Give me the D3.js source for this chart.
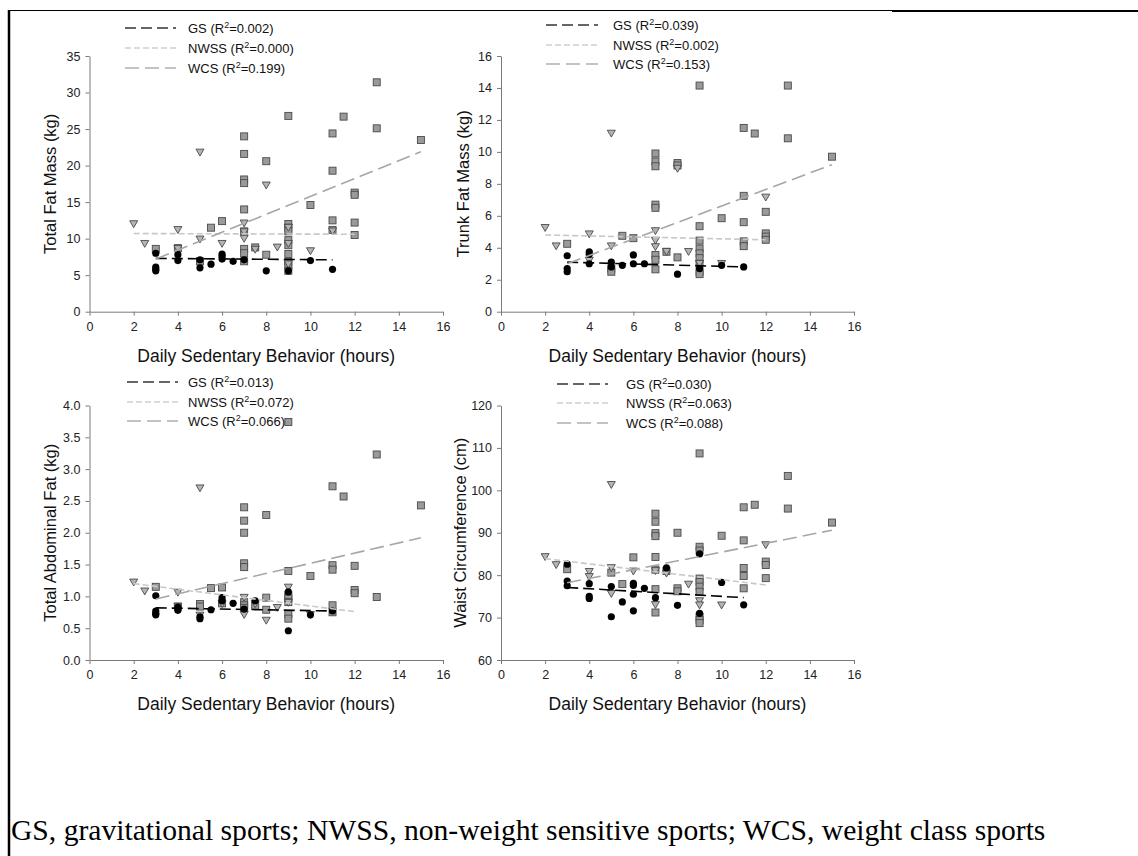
<!DOCTYPE html>
<html>
<head>
<meta charset="utf-8">
<script src="https://cdn.jsdelivr.net/npm/d3@7"></script>
<style>
  body { margin: 0; background: #fff; }
  svg text { font-family: Arial, "Liberation Sans", sans-serif; }
</style>
</head>
<body>
<svg id="chart" width="1138" height="856"></svg>
<script>
// ---- data (x = daily sedentary hours, y = measure) ----
var groups = ["GS", "NWSS", "WCS"];
var xTicks = [0, 2, 4, 6, 8, 10, 12, 14, 16];
var xTitle = "Daily Sedentary Behavior (hours)";

// Total fat mass (kg)
var tfmGS = [[3,8.0],[3,6.1],[3,5.8],[3,5.6],[4,7.8],[4,7.0],[5,7.1],[5,6.0],[5.5,6.5],[6,7.9],[6,7.6],[6,7.2],
  [6.5,6.9],[7,7.1],[8,5.6],[9,5.6],[10,7.0],[11,5.8]];
var tfmNWSS = [[2,12.0],[2.5,9.3],[4,11.2],[4,8.6],[5,21.8],[5,9.9],[6,9.3],[7,12.1],[7,10.9],[7,10.0],[7.5,8.5],
  [8,17.3],[8.5,8.8],[9,11.5],[9,9.3],[9,6.5],[10,8.3],[11,11.0]];
var tfmWCS = [[3,8.6],[4,8.7],[5,6.9],[5.5,11.5],[6,12.4],[7,24.0],[7,21.6],[7,18.1],[7,17.6],[7,14.0],[7,11.0],
  [7,8.6],[7,8.0],[7,6.9],[7.5,8.8],[8,20.6],[8,7.8],[9,26.8],[9,12.0],[9,11.5],[9,11.0],[9,9.8],[9,9.1],[9,7.9],
  [9,6.8],[9,6.3],[9,5.6],[10,14.6],[11,24.4],[11,19.3],[11,12.5],[11,11.2],[11.5,26.7],[12,16.3],[12,16.0],
  [12,12.2],[12,10.5],[13,31.4],[13,25.1],[15,23.5]];
var tfmFits = [[[3,7.3],[11,7.1]], [[2,10.7],[12,10.6]], [[3,7.2],[15,21.9]]];
var tfmR2 = ["0.002", "0.000", "0.199"];

// Trunk fat mass (kg)
var trkGS = [[3,3.5],[3,2.7],[3,2.5],[4,3.75],[4,3.6],[4,3.0],[5,3.1],[5,2.8],[5.5,2.9],[6,3.55],[6,3.0],
  [6.5,3.0],[8,2.35],[9,2.7],[10,2.9],[11,2.8]];
var trkNWSS = [[2,5.25],[2.5,4.1],[4,4.85],[4,3.2],[5,11.15],[5,4.1],[7,5.05],[7,4.45],[7,4.05],[7.5,3.75],
  [8,8.95],[8.5,3.75],[9,3.0],[10,3.0],[12,7.15]];
var trkWCS = [[3,4.25],[5,2.7],[5,2.5],[5.5,4.75],[6,4.6],[7,9.9],[7,9.4],[7,9.1],[7,6.7],[7,6.5],[7,3.55],
  [7,3.25],[7,2.65],[7.5,3.75],[8,9.3],[8,9.15],[8,3.4],[9,14.15],[9,5.35],[9,4.45],[9,3.95],[9,3.65],[9,3.35],
  [9,3.0],[9,2.5],[9,2.35],[10,5.85],[11,11.5],[11,7.25],[11,5.6],[11,4.4],[11,4.1],[11.5,11.15],[12,6.25],
  [12,4.9],[12,4.7],[12,4.5],[13,14.15],[13,10.85],[15,9.7]];
var trkFits = [[[3,3.1],[11,2.8]], [[2,4.8],[12,4.5]], [[3,3.0],[15,9.2]]];
var trkR2 = ["0.039", "0.002", "0.153"];

// Total abdominal fat (kg)
var abdGS = [[3,1.01],[3,0.77],[3,0.73],[3,0.71],[4,0.83],[4,0.78],[5,0.68],[5,0.65],[5.5,0.79],[6,0.98],
  [6,0.93],[6.5,0.89],[7,0.8],[7.5,0.93],[9,1.07],[9,0.46],[10,0.71],[11,0.77]];
var abdNWSS = [[2,1.22],[2.5,1.08],[4,1.06],[4,0.84],[5,0.7],[5,2.7],[6,0.88],[7,0.98],[7,0.71],[7.5,0.88],
  [8,0.62],[8.5,0.82],[9,1.14],[9,0.9],[10,0.71]];
var abdWCS = [[3,1.15],[4,0.84],[5,0.88],[5,0.84],[5.5,1.13],[6,1.14],[6,0.89],[7,2.4],[7,2.19],[7,2.0],
  [7,1.52],[7,1.46],[7,0.91],[7,0.86],[7,0.82],[7.5,0.85],[8,2.28],[8,0.98],[8,0.79],[9,3.74],[9,1.4],[9,1.02],
  [9,0.97],[9,0.91],[9,0.72],[9,0.65],[10,1.32],[11,2.73],[11,1.49],[11,1.42],[11,0.86],[11,0.75],[11.5,2.57],
  [12,1.48],[12,1.1],[12,1.05],[13,3.23],[13,0.99],[15,2.43]];
var abdFits = [[[3,0.82],[11,0.77]], [[2,1.2],[12,0.76]], [[3,0.96],[15,1.92]]];
var abdR2 = ["0.013", "0.072", "0.066"];

// Waist circumference (cm)
var wcGS = [[3,82.6],[3,78.6],[3,77.5],[4,78.0],[4,75.0],[4,74.5],[5,77.3],[5,70.2],[5.5,73.7],[6,78.1],
  [6,77.6],[6,75.5],[6,71.6],[6.5,76.9],[7,74.7],[7.5,81.7],[8,72.9],[9,85.0],[9,71.0],[10,78.3],[11,73.0]];
var wcNWSS = [[2,84.3],[2.5,82.4],[4,80.8],[4,79.6],[5,101.3],[5,81.7],[5,75.6],[6,80.9],[7,81.0],[7,73.0],
  [7.5,80.4],[8.5,77.8],[9,73.9],[9,72.9],[10,72.9],[12,87.1]];
var wcWCS = [[3,81.4],[5,80.6],[5.5,77.9],[6,84.2],[7,94.5],[7,92.6],[7,89.9],[7,89.2],[7,84.3],[7,81.3],
  [7,76.7],[7,71.2],[7.5,81.0],[8,90.0],[8,76.9],[8,76.2],[9,108.7],[9,86.7],[9,85.8],[9,79.2],[9,78.4],
  [9,77.3],[9,76.1],[9,70.2],[9,69.4],[9,68.7],[10,89.3],[11,96.0],[11,88.2],[11,81.7],[11,79.8],[11,76.9],
  [11.5,96.6],[12,83.2],[12,82.4],[12,79.3],[13,103.4],[13,95.7],[15,92.4]];
var wcFits = [[[3,77.1],[11,74.7]], [[2,83.9],[12,77.7]], [[3,78.2],[15,90.6]]];
var wcR2 = ["0.030", "0.063", "0.088"];

var footnote = "GS, gravitational sports; NWSS, non-weight sensitive sports; WCS, weight class sports";

// ---- layout ----
var panels = [
  { title: "Total Fat Mass (kg)", domain: [0, 35], ticks: d3.range(0, 36, 5), fmt: d3.format("d"),
    gs: tfmGS, nwss: tfmNWSS, wcs: tfmWCS, fits: tfmFits, r2: tfmR2,
    left: 89.5, right: 443, top: 56, bottom: 311.7, ytx: 50, xty: 362,
    leg: { x0: 125, x1: 176, tx: 188, rows: [28, 48, 68] } },
  { title: "Trunk Fat Mass (kg)", domain: [0, 16], ticks: d3.range(0, 17, 2), fmt: d3.format("d"),
    gs: trkGS, nwss: trkNWSS, wcs: trkWCS, fits: trkFits, r2: trkR2,
    left: 501, right: 854, top: 56, bottom: 311.7, ytx: 463, xty: 362,
    leg: { x0: 546, x1: 598, tx: 613, rows: [25, 45, 64] } },
  { title: "Total Abdominal Fat (kg)", domain: [0, 4], ticks: d3.range(0, 4.01, 0.5), fmt: d3.format(".1f"),
    gs: abdGS, nwss: abdNWSS, wcs: abdWCS, fits: abdFits, r2: abdR2,
    left: 89.5, right: 443, top: 405.5, bottom: 660, ytx: 50, xty: 710,
    leg: { x0: 127, x1: 178, tx: 188, rows: [382, 402, 421] } },
  { title: "Waist Circumference (cm)", domain: [60, 120], ticks: d3.range(60, 121, 10), fmt: d3.format("d"),
    gs: wcGS, nwss: wcNWSS, wcs: wcWCS, fits: wcFits, r2: wcR2,
    left: 501, right: 854, top: 405.5, bottom: 660, ytx: 460, xty: 710,
    leg: { x0: 557, x1: 608, tx: 626, rows: [384, 403, 423] } }
];

// line styles for GS, NWSS, WCS fits
var fitStroke = ["#000", "#c8c8c8", "#a6a6a6"];
var fitDash = ["11,5", "6,3", "14,6"];
var legStroke = ["#333", "#cfcfcf", "#b0b0b0"];

var svg = d3.select("#chart");
svg.append("rect").attr("width", 1138).attr("height", 856).attr("fill", "#fff");

// page frame
svg.append("line").attr("x1", 8).attr("x2", 892).attr("y1", 10.5).attr("y2", 10.5)
  .attr("stroke", "#000").attr("stroke-width", 1);
svg.append("line").attr("x1", 892).attr("x2", 1138).attr("y1", 11).attr("y2", 11)
  .attr("stroke", "#000").attr("stroke-width", 2);
svg.append("line").attr("x1", 9).attr("x2", 9).attr("y1", 10).attr("y2", 856)
  .attr("stroke", "#000").attr("stroke-width", 2.5);

panels.forEach(drawPanel);

svg.append("text")
  .attr("x", 11).attr("y", 840)
  .style("font-family", "'Times New Roman', 'Liberation Serif', serif")
  .style("font-size", "29.6px")
  .attr("fill", "#000")
  .text(footnote);

function drawPanel(p) {
  var x = d3.scaleLinear().domain([0, 16]).range([p.left, p.right]);
  var y = d3.scaleLinear().domain(p.domain).range([p.bottom, p.top]);
  var g = svg.append("g");

  var xa = g.append("g")
    .attr("transform", "translate(0," + p.bottom + ")")
    .call(d3.axisBottom(x).tickValues(xTicks).tickSize(4).tickSizeOuter(0).tickPadding(6));
  var ya = g.append("g")
    .attr("transform", "translate(" + p.left + ",0)")
    .call(d3.axisLeft(y).tickValues(p.ticks).tickFormat(p.fmt).tickSize(4).tickSizeOuter(0).tickPadding(5));
  [xa, ya].forEach(function (a) {
    a.select(".domain").attr("stroke", "#7a7a7a");
    a.selectAll(".tick line").attr("stroke", "#7a7a7a");
    a.selectAll(".tick text").attr("fill", "#222").style("font-size", "12.5px")
      .style("font-family", "Arial, 'Liberation Sans', sans-serif");
  });

  // axis titles
  g.append("text")
    .attr("transform", "translate(" + p.ytx + "," + (p.top + p.bottom) / 2 + ") rotate(-90)")
    .attr("text-anchor", "middle").attr("dy", "0.35em")
    .style("font-size", "16.5px").attr("fill", "#111")
    .text(p.title);
  g.append("text")
    .attr("x", (p.left + p.right) / 2).attr("y", p.xty)
    .attr("text-anchor", "middle")
    .style("font-size", "17.5px").attr("fill", "#111")
    .text(xTitle);

  // markers: squares (WCS), down triangles (NWSS), circles (GS)
  g.selectAll("rect.wcs").data(p.wcs).join("rect")
    .attr("class", "wcs")
    .attr("x", function (d) { return x(d[0]) - 3.5; })
    .attr("y", function (d) { return y(d[1]) - 3.5; })
    .attr("width", 7).attr("height", 7)
    .attr("fill", "#9a9a9a").attr("stroke", "#4a4a4a").attr("stroke-width", 0.9);

  g.selectAll("path.nwss").data(p.nwss).join("path")
    .attr("class", "nwss")
    .attr("d", function (d) {
      var cx = x(d[0]), cy = y(d[1]);
      return "M" + (cx - 4) + "," + (cy - 3.3) + "L" + (cx + 4) + "," + (cy - 3.3) + "L" + cx + "," + (cy + 3.6) + "Z";
    })
    .attr("fill", "#b4b4b4").attr("stroke", "#4a4a4a").attr("stroke-width", 0.9);

  g.selectAll("circle.gs").data(p.gs).join("circle")
    .attr("class", "gs")
    .attr("cx", function (d) { return x(d[0]); })
    .attr("cy", function (d) { return y(d[1]); })
    .attr("r", 3.6)
    .attr("fill", "#000");

  // regression lines
  p.fits.forEach(function (f, i) {
    g.append("line")
      .attr("x1", x(f[0][0])).attr("y1", y(f[0][1]))
      .attr("x2", x(f[1][0])).attr("y2", y(f[1][1]))
      .attr("stroke", fitStroke[i]).attr("stroke-width", 1.6)
      .attr("stroke-dasharray", fitDash[i]);
  });

  // legend
  groups.forEach(function (name, i) {
    var ry = p.leg.rows[i];
    g.append("line")
      .attr("x1", p.leg.x0).attr("x2", p.leg.x1).attr("y1", ry).attr("y2", ry)
      .attr("stroke", legStroke[i]).attr("stroke-width", 1.6)
      .attr("stroke-dasharray", fitDash[i]);
    var t = g.append("text").attr("x", p.leg.tx).attr("y", ry + 4.5)
      .style("font-size", "13px").attr("fill", "#111");
    t.append("tspan").text(name + " (R");
    t.append("tspan").attr("dy", -5).style("font-size", "9px").text("2");
    t.append("tspan").attr("dy", 5).text("=" + p.r2[i] + ")");
  });
}
</script>
</body>
</html>
